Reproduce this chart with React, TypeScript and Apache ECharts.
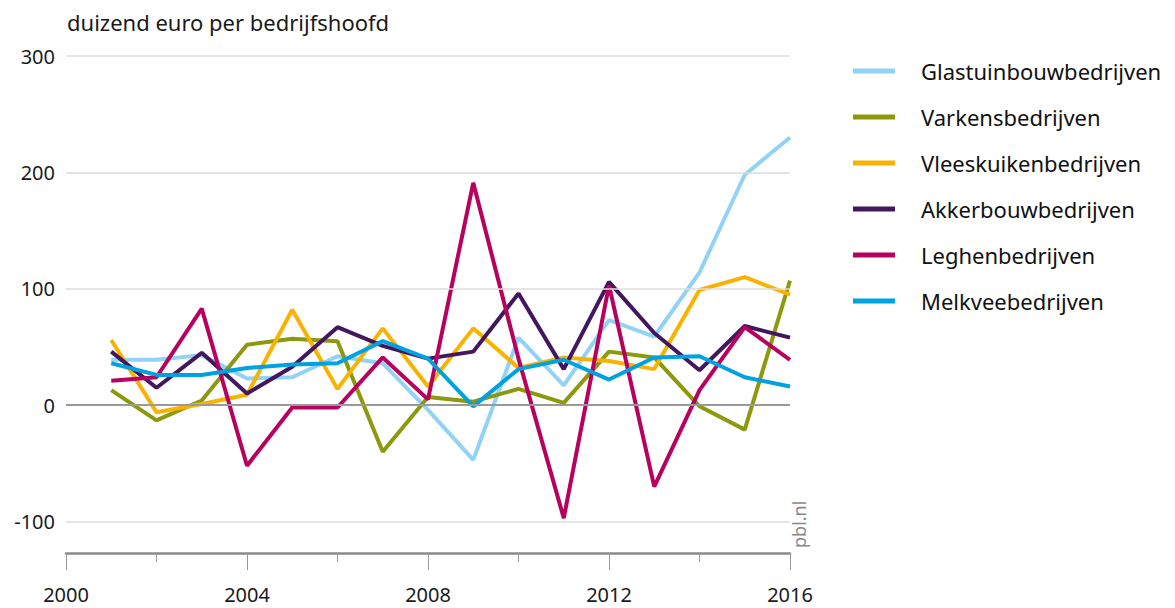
import React, { useEffect, useRef } from "react";
import * as echarts from "echarts";

const years = [2001, 2002, 2003, 2004, 2005, 2006, 2007, 2008, 2009, 2010, 2011, 2012, 2013, 2014, 2015, 2016];

const glastuinbouw = [39, 39, 43, 23, 24, 42, 36, -4, -47, 58, 17, 73, 59, 114, 198, 230];
const varkens = [13, -13, 4, 52, 57, 55, -40, 7, 3, 14, 2, 46, 41, -1, -21, 107];
const vleeskuiken = [56, -6, 1, 9, 82, 14, 66, 16, 66, 32, 41, 38, 31, 99, 110, 95];
const akkerbouw = [46, 15, 45, 10, 33, 67, 51, 40, 46, 96, 31, 106, 62, 30, 68, 58];
const leghen = [21, 24, 83, -52, -2, -2, 41, 5, 191, 40, -97, 103, -70, 13, 67, 39];
const melkvee = [36, 26, 26, 32, 35, 36, 55, 40, -1, 31, 39, 22, 41, 42, 24, 16];

const seriesNames = [
  "Glastuinbouwbedrijven",
  "Varkensbedrijven",
  "Vleeskuikenbedrijven",
  "Akkerbouwbedrijven",
  "Leghenbedrijven",
  "Melkveebedrijven",
];
const seriesValues = [glastuinbouw, varkens, vleeskuiken, akkerbouw, leghen, melkvee];
const seriesColors = ["#92d2f5", "#8c990c", "#f9b200", "#42175e", "#b8005f", "#00a1e0"];

const yLabels = [-100, 0, 100, 200, 300];
const gridValues = [-100, 100, 200, 300];

const FONT = "Noto Sans";

export default function App() {
  const ref = useRef<HTMLDivElement>(null);
  useEffect(() => {
    if (!ref.current) return;
    document.body.style.margin = "0";
    const chart = echarts.init(ref.current, null, { renderer: "svg" });
    const lines = seriesNames.map((name, i) => ({
      name,
      type: "line",
      z: 3,
      data: years.map((y, j) => [y, seriesValues[i][j]]),
      symbol: "none",
      lineStyle: { color: seriesColors[i], width: 4 },
      itemStyle: { color: seriesColors[i] },
    }));
    chart.setOption({
      animation: false,
      textStyle: { fontFamily: FONT },
      grid: { left: 66, right: 385, top: 56, bottom: 55 },
      title: {
        text: "duizend euro per bedrijfshoofd",
        left: 62,
        top: 6,
        textStyle: { fontFamily: FONT, fontSize: 22, fontWeight: "normal", color: "#1a1a1a" },
      },
      legend: {
        orient: "vertical",
        left: 848,
        top: 53,
        itemWidth: 42,
        itemHeight: 5,
        itemGap: 20,
        icon: "rect",
        data: seriesNames,
        textStyle: {
          fontFamily: FONT,
          fontSize: 22,
          color: "#111",
          lineHeight: 26,
          padding: [0, 0, 0, 21],
        },
      },
      xAxis: {
        type: "value",
        min: 2000,
        max: 2016,
        interval: 4,
        axisLine: { show: true, onZero: false, lineStyle: { color: "#8a8a8a", width: 2.5 } },
        axisTick: { show: true, length: 17, lineStyle: { color: "#999", width: 1 } },
        minorTick: { show: true, splitNumber: 2, length: 9, lineStyle: { color: "#999", width: 1 } },
        splitLine: { show: false },
        minorSplitLine: { show: false },
        axisLabel: {
          margin: 31,
          fontFamily: FONT,
          fontSize: 20,
          color: "#1a1a1a",
          formatter: (v: number) => String(v),
        },
      },
      yAxis: {
        type: "value",
        min: -127,
        max: 300,
        axisLine: { show: false },
        axisTick: { show: false },
        splitLine: { show: false },
        axisLabel: {
          customValues: yLabels,
          margin: 11,
          fontFamily: FONT,
          fontSize: 20,
          color: "#1a1a1a",
        },
      },
      series: [
        {
          name: "grid",
          type: "line",
          z: 1,
          data: [],
          markLine: {
            silent: true,
            symbol: "none",
            animation: false,
            label: { show: false },
            data: [
              ...gridValues.map((v) => ({ yAxis: v, lineStyle: { color: "#dcdcdc", width: 1.5, type: "solid" } })),
              { yAxis: 0, lineStyle: { color: "#9a9a9a", width: 2, type: "solid" } },
            ],
          },
        },
        ...lines,
      ],
      graphic: [
        {
          type: "text",
          x: 790,
          y: 548,
          rotation: Math.PI / 2,
          style: { text: "pbl.nl", fontFamily: FONT, fontSize: 18, fill: "#888" },
        },
      ],
    });
    return () => chart.dispose();
  }, []);
  return <div ref={ref} style={{ width: 1175, height: 608 }} />;
}
